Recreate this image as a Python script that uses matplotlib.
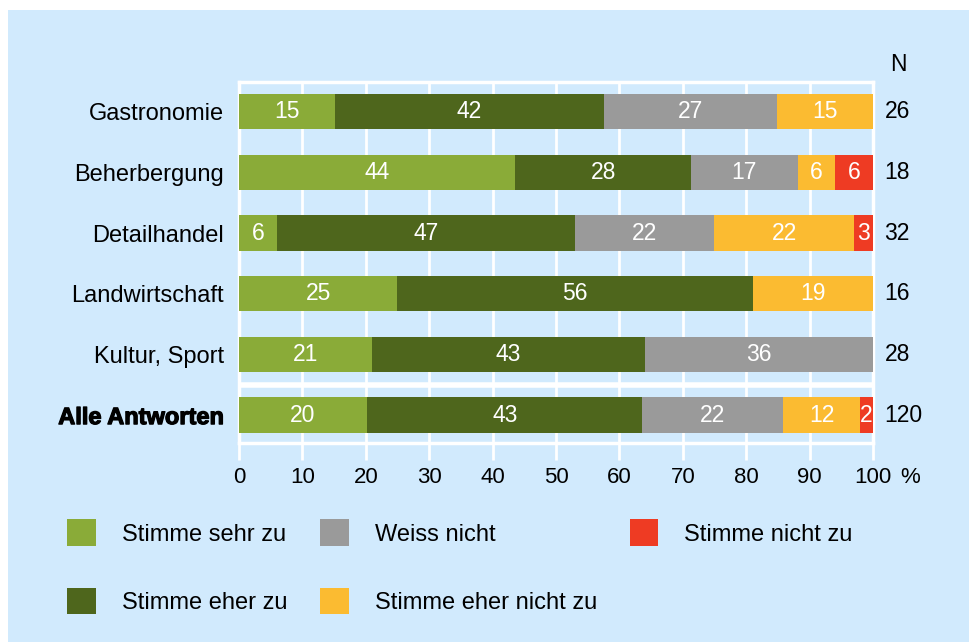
import numpy as np
import matplotlib.pyplot as plt
import matplotlib.patheffects as pe
from matplotlib.patches import Rectangle

plt.rcParams['font.family'] = ['Liberation Sans', 'DejaVu Sans']

# survey answers per branch, percent of respondents (rounded)
branches = ['Gastronomie', 'Beherbergung', 'Detailhandel', 'Landwirtschaft',
            'Kultur, Sport', 'Alle Antworten']
n_resp = [26, 18, 32, 16, 28, 120]
answers = ['Stimme sehr zu', 'Stimme eher zu', 'Weiss nicht',
           'Stimme eher nicht zu', 'Stimme nicht zu']
sehr_zu = [15, 44, 6, 25, 21, 20]
eher_zu = [42, 28, 47, 56, 43, 43]
weiss_nicht = [27, 17, 22, 0, 36, 22]
eher_nicht = [15, 6, 22, 19, 0, 12]
nicht_zu = [0, 6, 3, 0, 0, 2]
colors = ['#8aab38', '#4e661c', '#9a9a9a', '#fbbb31', '#ee3b23']

bg = '#d1eafd'
fs = 17

fig = plt.figure(figsize=(9.7, 6.42), dpi=100, facecolor='white')
fig.add_artist(Rectangle((8/970, 0), 1, 1 - 10/642, transform=fig.transFigure,
                         facecolor=bg, edgecolor='none', zorder=-10))

ax = fig.add_axes([239/970, (642-443)/642, (873-239)/970, (443-82)/642])
ax.set_facecolor(bg)

table = np.array([sehr_zu, eher_zu, weiss_nicht, eher_nicht, nicht_zu], dtype=float)
# rounded shares don't always add up to 100, so scale each row to the full bar
shares = table / table.sum(axis=0) * 100

y = np.arange(len(branches))
left = np.zeros(len(branches))
for vals, widths, col, lab in zip(table, shares, colors, answers):
    ax.barh(y, widths, left=left, height=0.58, color=col, label=lab, zorder=3)
    for yi, l, v, w in zip(y, left, vals, widths):
        if v > 0:
            ax.text(l + w/2, yi, f'{v:g}', ha='center', va='center',
                    color='white', fontsize=fs - 0.5, zorder=4)
    left += widths

for yi, n in zip(y, n_resp):
    ax.text(101.8, yi, str(n), ha='left', va='center', fontsize=fs - 0.5)
ax.text(104, -0.78, 'N', ha='center', va='center', fontsize=fs - 0.5)

ax.axhline(4.5, color='white', lw=4, zorder=2)

ax.set_xlim(0, 100)
ax.set_ylim(5.46, -0.49)
ax.set_xticks(np.arange(0, 101, 10))
ax.set_xticklabels([str(v) for v in range(0, 101, 10)], fontsize=fs - 1)
ax.tick_params(axis='x', length=12, width=2, color='white', pad=5)
# percent sign sits on the tick-label baseline, right of "100"
ax.annotate('%', xy=(1, 0), xycoords=ax.get_xticklabels()[-1],
            xytext=(6, 0), textcoords='offset points',
            ha='left', va='bottom', fontsize=fs - 1)
ax.set_yticks(y)
ax.set_yticklabels(branches, fontsize=fs)
lab_all = ax.get_yticklabels()[-1]
lab_all.set_fontweight('bold')
lab_all.set_path_effects([pe.withStroke(linewidth=0.9, foreground='black')])
ax.tick_params(axis='y', length=0, pad=11)
ax.xaxis.grid(True, color='white', lw=2, zorder=1)
ax.set_axisbelow(True)
for s in ax.spines.values():
    s.set_color('white')
    s.set_linewidth(2.5)

# legend below the axes, three columns
fig.legend(loc='upper left', bbox_to_anchor=(58/970, 1 - 510/642),
           ncol=3, frameon=False, fontsize=fs, handlelength=1.2,
           handleheight=1.35, handletextpad=1.1, columnspacing=1.4,
           labelspacing=1.78, borderaxespad=0)

fig.savefig('out.png', dpi=100, facecolor='white')
